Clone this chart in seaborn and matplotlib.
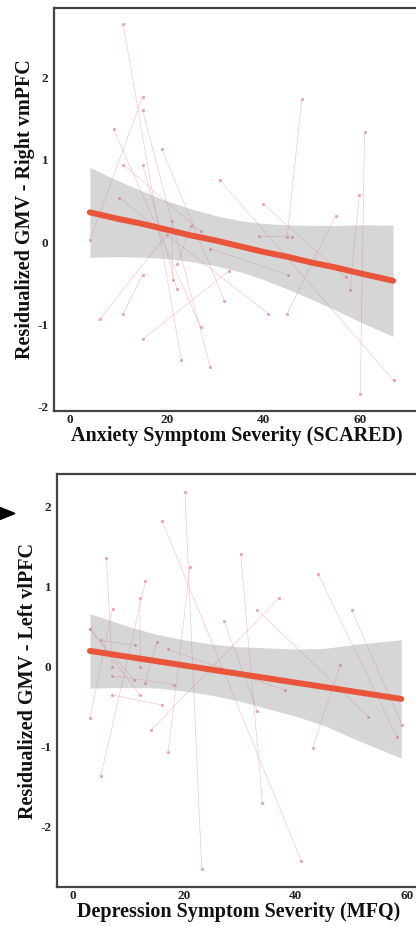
import numpy as np
import pandas as pd
import seaborn as sns
import matplotlib.pyplot as plt
from matplotlib.patches import Polygon

# --- panel 1: anxiety (SCARED) vs right vmPFC, one pair of visits per subject ---
anx_x1 = [11.0, 15.0, 15.0, 9.0, 19.0, 31.0, 47.9, 60.9, 59.8, 54.9, 40.0,
          39.0, 10.1, 15.0, 6.1, 11.0, 11.0, 15.0, 21.0, 25.0, 29.0]
anx_y1 = [2.64, 1.76, 1.60, 1.37, 1.13, 0.75, 1.73, 1.33, 0.57, 0.32, 0.46,
          0.07, 0.54, -1.18, -0.94, -0.87, 0.94, 0.94, 0.26, 0.19, -0.08]
anx_x2 = [23.0, 4.1, 29.0, 27.0, 31.9, 66.9, 44.9, 60.0, 57.9, 44.9, 57.0,
          45.8, 41.0, 32.9, 20.0, 15.0, 27.0, 22.1, 21.2, 22.1, 45.0]
anx_y2 = [-1.43, 0.02, -1.52, -1.03, -0.71, -1.68, 0.06, -1.85, -0.58, -0.87, -0.43,
          0.06, -0.87, -0.35, 0.09, -0.40, 0.13, -0.57, -0.46, -0.27, -0.40]

# fitted line and confidence band
anx_fit_x = [4.1, 10, 15, 20, 25, 30, 35, 40, 45, 50, 55, 60, 66.8]
anx_fit_y = [0.36, 0.28, 0.22, 0.15, 0.08, 0.02, -0.05, -0.12, -0.18, -0.25, -0.31, -0.38, -0.47]
anx_fit_lo = [-0.185, -0.178, -0.184, -0.201, -0.237, -0.288, -0.359, -0.455, -0.572,
              -0.698, -0.829, -0.970, -1.145]
anx_fit_hi = [0.905, 0.742, 0.616, 0.499, 0.403, 0.322, 0.261, 0.225, 0.208,
              0.202, 0.201, 0.210, 0.205]

# --- panel 2: depression (MFQ) vs left vlPFC ---
dep_x1 = [20.1, 16.0, 30.1, 6.0, 21.0, 13.0, 12.0, 7.1, 3.05, 33.1, 37.0,
          44.0, 50.0, 48.0, 27.1, 5.0, 15.0, 17.0, 7.05, 7.05, 3.05]
dep_y1 = [2.18, 1.82, 1.41, 1.36, 1.25, 1.07, 0.86, 0.72, 0.475, 0.71, 0.86,
          1.16, 0.71, 0.03, 0.57, 0.33, 0.31, 0.22, -0.11, -0.35, 0.475]
dep_x2 = [23.1, 41.0, 34.0, 7.05, 17.1, 5.0, 12.1, 3.05, 12.0, 53.0, 14.0,
          58.1, 59.1, 43.0, 33.1, 11.1, 13.0, 38.0, 18.1, 16.0, 11.0]
dep_y2 = [-2.53, -2.43, -1.70, 0.005, -1.06, -1.36, 0.00, -0.64, -0.35, -0.62, -0.79,
          -0.87, -0.73, -1.01, -0.55, 0.27, -0.20, -0.29, -0.22, -0.475, -0.16]

dep_fit_x = [3.05, 10, 15, 20, 25, 30, 35, 40, 45, 50, 55, 58.9]
dep_fit_y = [0.20, 0.125, 0.072, 0.018, -0.036, -0.089, -0.143, -0.197, -0.25, -0.304, -0.358, -0.40]
dep_fit_lo = [-0.265, -0.255, -0.263, -0.302, -0.356, -0.429, -0.523, -0.617, -0.730,
              -0.884, -1.028, -1.140]
dep_fit_hi = [0.665, 0.505, 0.407, 0.338, 0.284, 0.251, 0.237, 0.223, 0.230,
              0.276, 0.312, 0.340]

sns.set_theme(style="white")
plt.rcParams['font.family'] = ['Liberation Serif', 'DejaVu Serif']
plt.rcParams['font.weight'] = 'bold'

pink = '#f2a3b0'
red = '#e8553a'


def long_df(x1, y1, x2, y2):
    n = len(x1)
    return pd.DataFrame({
        'subj': list(range(n)) * 2,
        'x': list(x1) + list(x2),
        'y': list(y1) + list(y2),
    })


def panel(ax, df, fx, fy, flo, fhi, xlim, ylim, yticks, xticks, xlabel, ylabel):
    sns.lineplot(data=df, x='x', y='y', units='subj', estimator=None, sort=False,
                 color=pink, lw=0.5, alpha=0.6, ax=ax)
    sns.scatterplot(data=df, x='x', y='y', color='#e88a9a', s=5, linewidth=0, alpha=0.8, ax=ax)
    ax.fill_between(fx, flo, fhi, color='#999999', alpha=0.4, lw=0, zorder=3)
    sns.lineplot(x=fx, y=fy, color=red, lw=4.3, ax=ax, zorder=4)
    ax.set_xlim(*xlim)
    ax.set_ylim(*ylim)
    ax.set_xticks(xticks)
    ax.set_yticks(yticks)
    ax.set_xticklabels([str(t) for t in xticks], fontsize=9.5, fontweight='bold', color='#222222')
    ax.set_yticklabels([str(t) for t in yticks], fontsize=9.5, fontweight='bold', color='#222222')
    ax.tick_params(axis='both', length=3, width=0.8, color='#555555', pad=1)
    ax.tick_params(axis='x', pad=-1)
    for s in ax.spines.values():
        s.set_color('#444444')
        s.set_linewidth(1.6)
    ax.set_xlabel(xlabel, fontsize=14.5, fontweight='bold', labelpad=0, color='#111111')
    ax.set_ylabel(ylabel, fontsize=14.5, fontweight='bold', labelpad=2, color='#111111')


fig = plt.figure(figsize=(4.16, 9.26), dpi=100)
ax1 = fig.add_axes([0.130, 0.5562, 0.880, 0.4352])
ax2 = fig.add_axes([0.137, 0.0421, 0.873, 0.4460])

panel(ax1, long_df(anx_x1, anx_y1, anx_x2, anx_y2),
      anx_fit_x, anx_fit_y, anx_fit_lo, anx_fit_hi,
      (-3.3, 72.4), (-2.05, 2.84), [-2, -1, 0, 1, 2], [0, 20, 40, 60],
      'Anxiety Symptom Severity (SCARED)', 'Residualized GMV - Right vmPFC')
panel(ax2, long_df(dep_x1, dep_y1, dep_x2, dep_y2),
      dep_fit_x, dep_fit_y, dep_fit_lo, dep_fit_hi,
      (-2.87, 62.3), (-2.75, 2.41), [-2, -1, 0, 1, 2], [0, 20, 40, 60],
      'Depression Symptom Severity (MFQ)', 'Residualized GMV - Left vlPFC')

# arrow head cut off at the left edge of the original figure
fig.add_artist(Polygon([[0.0, 0.452], [0.036, 0.4455], [0.0, 0.439]],
                       closed=True, color='black', transform=fig.transFigure))

fig.savefig('out.png', dpi=100)
